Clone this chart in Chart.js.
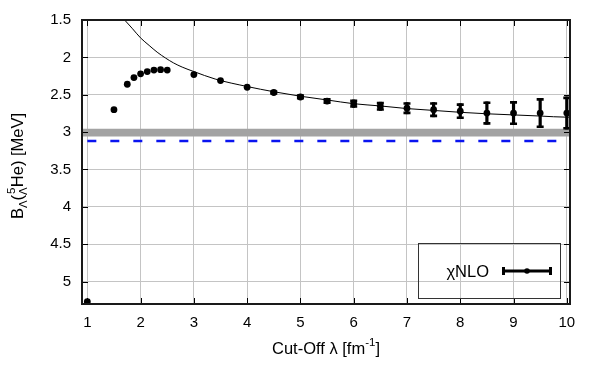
<!DOCTYPE html>
<html>
<head>
<meta charset="utf-8">
<script src="https://cdn.jsdelivr.net/npm/chart.js@4/dist/chart.umd.min.js"></script>
<style>
  html, body { margin: 0; padding: 0; background: #fff; }
  #wrap { width: 600px; height: 375px; }
</style>
</head>
<body>
<div id="wrap"><canvas id="c" width="600" height="375"></canvas></div>
<script>
// cut-off values and binding energies (chi NLO)
const LAMBDA = [1, 1.5, 1.75, 1.875, 2, 2.125, 2.25, 2.375, 2.5, 3, 3.5, 4, 4.5, 5, 5.5, 6, 6.5, 7, 7.5, 8, 8.5, 9, 9.5, 10];
const B_NLO = [5.27, 2.70, 2.36, 2.27, 2.22, 2.19, 2.17, 2.165, 2.17, 2.23, 2.31, 2.40, 2.47, 2.53, 2.585, 2.62, 2.655, 2.68, 2.70, 2.72, 2.745, 2.745, 2.745, 2.745];
const B_ERR = [0, 0, 0, 0, 0, 0, 0, 0, 0, 0, 0, 0, 0.03, 0.035, 0.04, 0.055, 0.06, 0.08, 0.10, 0.105, 0.155, 0.16, 0.20, 0.22];

// fitted curve
const FIT_X = [1.7, 1.84, 2.0, 2.16, 2.31, 2.47, 2.62, 2.78, 3.0, 3.4, 4, 4.5, 5, 5.5, 6, 6.5, 7, 7.5, 8, 8.5, 9, 9.5, 10, 10.06];
const FIT_Y = [1.5, 1.61, 1.74, 1.84, 1.93, 2.01, 2.075, 2.13, 2.19, 2.29, 2.39, 2.46, 2.52, 2.57, 2.62, 2.65, 2.685, 2.71, 2.735, 2.755, 2.77, 2.785, 2.80, 2.80];

// experimental band and reference line
const BAND = [2.955, 3.06];
const REF_LINE = 3.12;
const REF_X = [1, 10];

const X_RANGE = [0.9, 10.06];
const Y_RANGE = [1.5, 5.3];
const X_TICKS = [1, 2, 3, 4, 5, 6, 7, 8, 9, 10];
const Y_TICKS = [1.5, 2, 2.5, 3, 3.5, 4, 4.5, 5];

const FONT = '"Liberation Sans", Arial, sans-serif';
Chart.defaults.font.family = FONT;
Chart.defaults.font.size = 15;
Chart.defaults.color = '#000';

const points = LAMBDA.map((x, i) => ({ x, y: B_NLO[i] }));
const fit = FIT_X.map((x, i) => ({ x, y: FIT_Y[i] }));

// error bars, frame, inward ticks, axis titles and legend
const decor = {
  id: 'decor',
  afterDatasetsDraw(chart) {
    const { ctx, scales: { x, y } } = chart;
    ctx.save();
    ctx.strokeStyle = '#000';
    LAMBDA.forEach((l, i) => {
      if (!B_ERR[i]) return;
      const px = x.getPixelForValue(l);
      const top = y.getPixelForValue(B_NLO[i] - B_ERR[i]);
      const bot = y.getPixelForValue(B_NLO[i] + B_ERR[i]);
      ctx.lineWidth = 3.2;
      ctx.beginPath();
      ctx.moveTo(px, top); ctx.lineTo(px, bot);
      ctx.stroke();
      ctx.lineWidth = 2.6;
      ctx.beginPath();
      ctx.moveTo(px - 3.5, top + 1.3); ctx.lineTo(px + 3.5, top + 1.3);
      ctx.moveTo(px - 3.5, bot - 1.3); ctx.lineTo(px + 3.5, bot - 1.3);
      ctx.stroke();
    });
    ctx.restore();
  },
  afterDraw(chart) {
    const { ctx, chartArea: a, scales: { x, y } } = chart;
    ctx.save();
    ctx.strokeStyle = '#000';
    ctx.lineWidth = 1;
    ctx.beginPath();
    X_TICKS.forEach(v => {
      const px = Math.round(x.getPixelForValue(v)) + 0.5;
      ctx.moveTo(px, a.bottom); ctx.lineTo(px, a.bottom - 6);
      ctx.moveTo(px, a.top); ctx.lineTo(px, a.top + 6);
    });
    Y_TICKS.forEach(v => {
      const py = Math.round(y.getPixelForValue(v)) + 0.5;
      ctx.moveTo(a.left, py); ctx.lineTo(a.left + 6, py);
      ctx.moveTo(a.right, py); ctx.lineTo(a.right - 6, py);
    });
    ctx.stroke();

    ctx.strokeStyle = '#1a1a1a';
    ctx.lineWidth = 2;
    ctx.strokeRect(a.left, a.top, a.right - a.left, a.bottom - a.top);

    // x title: Cut-Off λ [fm^-1]
    ctx.fillStyle = '#000';
    ctx.textBaseline = 'alphabetic';
    const cx = (a.left + a.right) / 2;
    drawRich(ctx, [['Cut-Off λ [fm', 16.5, 0], ['-1', 11.5, -8], [']', 16.5, 0]], cx, 354);

    // y title, rotated
    ctx.save();
    ctx.translate(23, (a.top + a.bottom) / 2 + 4);
    ctx.rotate(-Math.PI / 2);
    drawRich(ctx, [['B', 16.5, 0], ['Λ', 11.5, 4], ['(', 16.5, 0], [['Λ', '5'], 11.5, 0], ['He) [MeV]', 16.5, 0]], 0, 0);
    ctx.restore();

    // legend
    const bx = a.right - 152, by = a.bottom - 61, bw = 142, bh = 55;
    ctx.strokeStyle = '#333';
    ctx.lineWidth = 1;
    ctx.strokeRect(Math.round(bx) + 0.5, Math.round(by) + 0.5, bw, bh);
    ctx.font = '16.5px ' + FONT;
    ctx.textAlign = 'right';
    ctx.fillText('χNLO', bx + 71, by + 34);
    const ly = by + 28, lx0 = bx + 84, lx1 = bx + 134;
    ctx.strokeStyle = '#000';
    ctx.lineWidth = 3;
    ctx.beginPath();
    ctx.moveTo(lx0, ly); ctx.lineTo(lx1, ly);
    ctx.stroke();
    ctx.beginPath();
    ctx.moveTo(lx0 + 1.5, ly - 4); ctx.lineTo(lx0 + 1.5, ly + 4);
    ctx.moveTo(lx1 - 1.5, ly - 4); ctx.lineTo(lx1 - 1.5, ly + 4);
    ctx.stroke();
    ctx.beginPath();
    ctx.arc((lx0 + lx1) / 2, ly, 2.8, 0, Math.PI * 2);
    ctx.fill();
    ctx.restore();
  }
};

// draws text pieces [text, size, dy] centred at cx; an array text stacks sub/superscript
function drawRich(ctx, parts, cx, base) {
  ctx.textAlign = 'left';
  const w = parts.map(([t, s]) => {
    ctx.font = s + 'px ' + FONT;
    return Array.isArray(t) ? Math.max(...t.map(q => ctx.measureText(q).width)) : ctx.measureText(t).width;
  });
  let px = cx - w.reduce((p, q) => p + q, 0) / 2;
  parts.forEach(([t, s, dy], i) => {
    ctx.font = s + 'px ' + FONT;
    if (Array.isArray(t)) {
      ctx.fillText(t[0], px, base + 4);
      ctx.fillText(t[1], px + 1, base - 8);
    } else {
      ctx.fillText(t, px, base + dy);
    }
    px += w[i];
  });
}

new Chart(document.getElementById('c'), {
  type: 'scatter',
  data: {
    datasets: [
      {
        label: 'χNLO', data: points, showLine: false,
        pointRadius: 3.4, pointBackgroundColor: '#000', pointBorderWidth: 0, order: 1
      },
      {
        label: 'fit', data: fit, showLine: true, borderColor: '#000', borderWidth: 1,
        pointRadius: 0, cubicInterpolationMode: 'monotone', order: 2
      },
      {
        label: 'ref', data: REF_X.map(x => ({ x, y: REF_LINE })), showLine: true,
        borderColor: '#0a14f0', borderWidth: 2.5, borderDash: [9, 14], pointRadius: 0, order: 3
      },
      {
        label: 'band', data: X_RANGE.map(x => ({ x, y: BAND[1] })), showLine: true,
        borderWidth: 0, pointRadius: 0, backgroundColor: '#a3a3a3',
        fill: { value: BAND[0] }, order: 4
      }
    ]
  },
  options: {
    responsive: false,
    animation: false,
    layout: { padding: { top: 20, right: 30, left: 0, bottom: 0 } },
    plugins: { legend: { display: false }, tooltip: { enabled: false } },
    scales: {
      x: {
        type: 'linear', min: X_RANGE[0], max: X_RANGE[1],
        afterBuildTicks: s => { s.ticks = X_TICKS.map(value => ({ value })); },
        afterFit: s => { s.height = 71; },
        grid: { color: '#c4c4c4', borderDash: [1, 2], drawTicks: false },
        border: { display: false },
        ticks: { padding: 10, maxRotation: 0, font: { size: 15 } }
      },
      y: {
        type: 'linear', reverse: true, min: Y_RANGE[0], max: Y_RANGE[1],
        afterBuildTicks: s => { s.ticks = Y_TICKS.map(value => ({ value })); },
        afterFit: s => { s.width = 82; },
        grid: { color: '#c4c4c4', borderDash: [1, 2], drawTicks: false },
        border: { display: false },
        ticks: { padding: 11, font: { size: 15 }, callback: v => String(v) }
      }
    }
  },
  plugins: [decor]
});
</script>
</body>
</html>
